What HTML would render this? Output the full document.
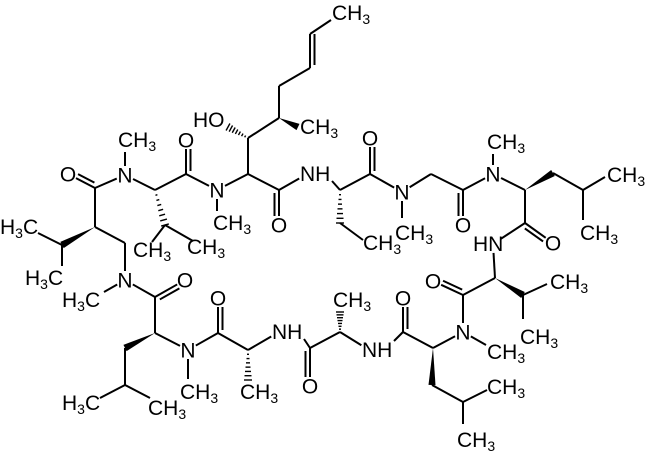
<!DOCTYPE html>
<html><head><meta charset="utf-8"><style>
html,body{margin:0;padding:0;background:#fff;}
svg{display:block;}
text{font-family:"Liberation Sans",Arial,sans-serif;font-size:21px;fill:#000;}
</style></head><body>
<svg id="s" width="650" height="457" viewBox="0 0 650 457" xmlns="http://www.w3.org/2000/svg"></svg>
<script>
var A={O1:[68,174,9],C1:[95,188],N1:[125,175,9],M1:[125,152],C2:[155,190],C2b:[165,225],M2a:[152,242],M2b:[193,241],
C3:[186,174],O3:[186,140,9],N2:[217,190,9],M3:[217,211],C4:[248,174],C4b:[248,138],HOe:[228,127],C4c:[279,118],M4:[298,127],
C4d:[279,86],C4e:[310,68],C4f:[310,34],M5:[331,20],C5:[279,190],O5:[279,225,9],N8:[307,174,9],N8h:[332,181],C6:[340,190],C6b:[340,223],
M6:[363,240],C7:[370,174],O7:[370,138,9],N3:[402,192,9],M7:[402,218],C8a:[431,174],C8:[463,190],O8:[463,225,9],
N4:[493,174,9],M8:[493,154],C9:[525,190],C9b:[553,173],C9c:[583,190],M9:[605,177],M10:[583,220],C10:[525,223],
O10:[553,243,9],N9:[493,244,9],C11:[495,278],C11b:[523,295],M11:[547,284],M12:[523,319],C12:[463,295],O12:[433,281,9],
N5:[463,332,9],M13:[486,345],C13:[433,348],C13b:[432,385],C13c:[463,402],M14:[487,390],M15:[463,424],C14:[403,332],
O14:[403,298,9],N10:[369,350,9],N10h:[394,341],C15:[340,332],M16:[340,312],C16:[310,348],O16:[310,386,9],N11:[279,332,9],N11h:[304,339],C17:[248,350],
M17:[248,380],C18:[218,333],O18:[218,298,9],N6:[188,350,9],M18:[188,379],C19:[155,333],C19b:[125,348],C19c:[125,385],
M19:[100,398],M20:[150,398],C20:[155,297],O20:[185,280,9],N7:[125,280,9],M21:[104,292],CH2:[125,243],C1b:[95,227],
C1c:[62,245],M22:[38,233],M23:[62,266]};
var B="C1-O1-d C1-N1 N1-M1 N1-C2 C2-C2b-h C2b-M2a C2b-M2b C2-C3 C3-O3-d C3-N2 N2-M3 N2-C4 C4-C4b C4b-HOe-h C4b-C4c C4c-M4-w C4c-C4d C4d-C4e C4e-C4f-d C4f-M5 C4-C5 C5-O5-d C5-N8 N8h-C6 C6-C6b-h C6b-M6 C6-C7 C7-O7-d C7-N3 N3-M7 N3-C8a C8a-C8 C8-O8-d C8-N4 N4-M8 N4-C9 C9-C9b-w C9b-C9c C9c-M9 C9c-M10 C9-C10 C10-O10-d C10-N9 N9-C11 C11-C11b-w C11b-M11 C11b-M12 C11-C12 C12-O12-d C12-N5 N5-M13 N5-C13 C13-C13b-w C13b-C13c C13c-M14 C13c-M15 C13-C14 C14-O14-d C14-N10h N10-C15 C15-M16-h C15-C16 C16-O16-d C16-N11h N11-C17 C17-M17-h C17-C18 C18-O18-d C18-N6 N6-M18 N6-C19 C19-C19b-w C19b-C19c C19c-M19 C19c-M20 C19-C20 C20-O20-d C20-N7 N7-M21 N7-CH2 CH2-C1b C1-C1b C1b-C1c-w C1c-M22 C1c-M23".split(" ");
var s=document.getElementById("s"),out="";
function L(x1,y1,x2,y2){out+='<line x1="'+x1+'" y1="'+y1+'" x2="'+x2+'" y2="'+y2+'" stroke="#000" stroke-width="2"/>';}
B.forEach(function(b){var p=b.split("-"),a=A[p[0]],c=A[p[1]],t=p[2]||"s";
var dx=c[0]-a[0],dy=c[1]-a[1],l=Math.hypot(dx,dy),ux=dx/l,uy=dy/l,ra=a[2]||0,rc=c[2]||0;
var x1=a[0]+ux*ra,y1=a[1]+uy*ra,x2=c[0]-ux*rc,y2=c[1]-uy*rc,px=-uy,py=ux;
if(t=="s")L(x1,y1,x2,y2);
else if(t=="d"){L(x1,y1,x2,y2);var o=4.5;L(x1+px*o+ux*3,y1+py*o+uy*3,x2+px*o,y2+py*o);}
else if(t=="w"){out+='<polygon points="'+x1+','+y1+' '+(x2+px*3.5)+','+(y2+py*3.5)+' '+(x2-px*3.5)+','+(y2-py*3.5)+'" fill="#000"/>';}
else if(t=="h"){var n=7;for(var i=1;i<=n;i++){var f=i/n,cx=x1+(x2-x1)*f,cy=y1+(y2-y1)*f,w=0.5+3.5*f;
out+='<line x1="'+(cx+px*w)+'" y1="'+(cy+py*w)+'" x2="'+(cx-px*w)+'" y2="'+(cy-py*w)+'" stroke="#000" stroke-width="1.4"/>';}}});
var T=[["O",68,174],["O",186,140],["O",279,225],["O",370,138],["O",463,225],["O",553,243],["O",433,281],["O",403,298],["O",310,386],["O",218,298],["O",185,280],
["N",125,175],["N",217,190],["N",402,192],["N",493,174],["N",463,332],["N",188,350],["N",125,280]];
T.forEach(function(t){out+='<text x="'+t[1]+'" y="'+(t[2]+7.5)+'" text-anchor="middle">'+t[0]+'</text>';});
function ch3(x,y){out+='<text x="'+x+'" y="'+(y+1)+'">CH<tspan font-size="14" dy="4">3</tspan></text>';}
function h3c(x,y){out+='<text x="'+x+'" y="'+(y+1)+'">H<tspan font-size="14" dy="4">3</tspan><tspan dy="-4">C</tspan></text>';}
function tx(s,x,y){out+='<text x="'+x+'" y="'+(y+1)+'">'+s+'</text>';}
[[118,146],[133,256],[187,253],[213,229],[300,133],[332,19],[363,249],[395,239],[487,148],[607,181],[580,239],[550,288],[520,343],[487,358],[487,393],[457,446],[333,306],[240,398],[180,398],[148,414]].forEach(function(p){ch3(p[0],p[1]);});
[[62,409],[62,306],[25,284],[0,233]].forEach(function(p){h3c(p[0],p[1]);});
tx("HO",193,126);tx("NH",300,180);tx("HN",473,250);tx("NH",362,356);tx("NH",272,338);
s.innerHTML=out;
</script>
</body></html>
